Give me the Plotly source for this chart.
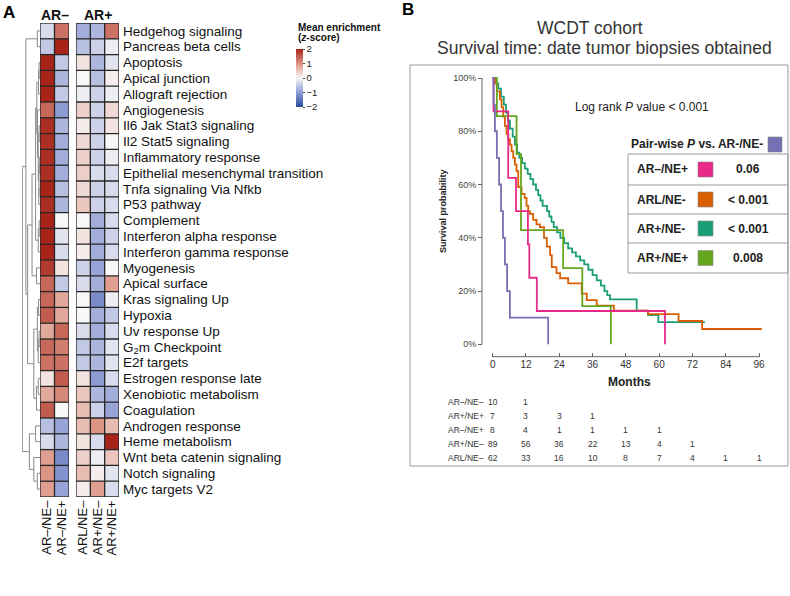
import plotly.graph_objects as go

W, H = 790, 596
FONT = "Liberation Sans, Arial, sans-serif"

# ---------------- Panel A data ----------------
pathways = [
    "Hedgehog signaling", "Pancreas beta cells", "Apoptosis", "Apical junction",
    "Allograft rejection", "Angiogenesis", "Il6 Jak Stat3 signaling", "Il2 Stat5 signaling",
    "Inflammatory response", "Epithelial mesenchymal transition", "Tnfa signaling Via Nfkb",
    "P53 pathway", "Complement", "Interferon alpha response", "Interferon gamma response",
    "Myogenesis", "Apical surface", "Kras signaling Up", "Hypoxia", "Uv response Up",
    "G<sub>2</sub>m Checkpoint", "E2f targets", "Estrogen response late", "Xenobiotic metabolism",
    "Coagulation", "Androgen response", "Heme metabolism", "Wnt beta catenin signaling",
    "Notch signaling", "Myc targets V2",
]
cols_ar_neg = ["AR–/NE–", "AR–/NE+"]
cols_ar_pos = ["ARL/NE–", "AR+/NE–", "AR+/NE+"]

ar_neg_ne_neg = [-0.3, -0.5, 2.0, 2.0, 2.0, 1.4, 1.9, 1.9, 1.9, 1.9, 2.0, 1.9, 2.0, 2.0, 2.0,
                 1.8, 1.4, 1.4, 1.5, 0.8, 1.4, 1.3, 0.2, 0.8, 1.5, -0.6, -0.3, 0.9, 1.0, 0.9]
ar_neg_ne_pos = [1.3, 2.0, -0.5, -0.7, -0.5, -1.0, -0.7, -0.8, -0.8, -0.8, -0.6, -0.7, 0.0, -0.2, -0.3,
                 0.2, -0.5, 0.8, 0.8, 1.4, 1.2, 1.3, 1.5, 1.1, 0.0, -0.9, -0.7, -1.2, -1.1, -0.9]
arl_ne_neg = [-0.8, -0.6, 0.2, 0.0, -0.1, 0.4, 0.1, 0.3, 0.4, 0.4, 0.3, 0.5, 0.0, 0.2, 0.1,
              -0.4, -0.3, 0.0, 0.0, -0.3, -0.5, -0.5, 0.2, 0.5, 0.6, 0.6, 0.2, 0.4, 0.6, 0.1]
ar_pos_ne_neg = [-0.7, -0.4, -0.7, -0.6, -0.4, -0.4, -0.4, -0.4, -0.4, -0.3, -0.4, -0.4, -0.8, -0.8, -0.8,
                 -0.9, -0.8, -1.2, -0.8, -0.8, -0.7, -0.7, -1.0, -0.7, -0.4, 1.0, -0.3, -0.1, 0.1, 0.9]
ar_pos_ne_pos = [1.3, -0.1, -0.2, 0.1, -0.1, 0.3, 0.2, 0.0, -0.1, -0.3, -0.3, -0.3, -0.3, -0.4, -0.3,
                 0.0, 0.9, -0.1, -0.5, -0.3, -0.2, -0.2, -0.3, -0.8, -0.9, 0.6, 2.0, 0.5, -0.2, -0.3]

# dendrogram: [merge height, left, right]; leaves are row indices
dendro_tree = [1.0,
               [0.8, [0.15, 0, 1],
                [0.7,
                 [0.45,
                  [0.25,
                   [0.18, [0.08, [0.05, 2, 3], 4],
                    [0.14, 5, [0.1, [0.05, 6, 7], [0.06, [0.04, 8, 9], [0.07, 10, 11]]]]],
                   [0.1, [0.05, 12, 13], 14]],
                  [0.2, 15, 16]],
                 [0.35, [0.15, [0.08, 17, 18], [0.1, [0.05, 19, 20], 21]],
                  [0.2, [0.1, 22, 23], 24]]]],
               [0.6, [0.25, 25, 26], [0.35, 27, [0.15, 28, 29]]]]

colorbar_ticks = [2, 1, 0, -1, -2]
colorbar_text = ["2", "1", "0", "−1", "−2"]

# ---------------- Panel B data ----------------
purple_t = [0.3, 0.8, 1.5, 2.3, 3.0, 3.7, 4.4, 5.2, 6.2, 20.0]
purple_s = [0.9, 0.8, 0.7, 0.6, 0.5, 0.4, 0.3, 0.2, 0.1, 0.0]
purple_end = 20.0

pink_t = [0.3, 5.6, 8.4, 12.7, 13.2, 15.9, 62.1]
pink_s = [0.875, 0.625, 0.5, 0.375, 0.25, 0.125, 0.0]
pink_end = 62.1

green_t = [1.5, 8.6, 10.2, 25.4, 32.3, 42.6]
green_s = [0.857, 0.714, 0.429, 0.286, 0.143, 0.0]
green_end = 42.6

orange_t = [0.8, 1.5, 2.6, 3.2, 3.8, 4.4, 5.0, 5.6, 6.2, 6.8,
            7.4, 8.0, 8.6, 9.2, 10.4, 11.5, 12.2, 12.8, 13.4, 14.6,
            15.8, 17.0, 18.5, 19.5, 20.7, 21.3, 23.0, 24.3, 27.2, 32.1,
            33.9, 37.5, 43.7, 56.0, 67.0, 75.5]
orange_s = [0.98, 0.95, 0.92, 0.89, 0.855, 0.82, 0.79, 0.77, 0.75, 0.725,
            0.70, 0.675, 0.65, 0.59, 0.565, 0.55, 0.52, 0.50, 0.49, 0.467,
            0.45, 0.44, 0.40, 0.367, 0.335, 0.29, 0.267, 0.248, 0.229, 0.19,
            0.166, 0.145, 0.126, 0.113, 0.0875, 0.0575]
orange_end = 97.0

teal_t = [1.2, 2.0, 3.0, 4.0, 4.8, 5.5, 6.2, 7.2, 8.0, 8.8,
          9.6, 10.6, 11.6, 12.6, 13.6, 14.6, 15.6, 16.4, 17.2, 18.0,
          19.6, 20.4, 21.2, 22.0, 23.2, 24.4, 25.8, 27.2, 28.6, 30.0,
          31.5, 33.0, 34.5, 36.0, 37.5, 39.0, 40.3, 41.3, 42.3, 51.9,
          56.0, 59.7]
teal_s = [0.98, 0.96, 0.93, 0.90, 0.87, 0.84, 0.81, 0.78, 0.75, 0.72,
          0.70, 0.68, 0.66, 0.64, 0.62, 0.60, 0.58, 0.56, 0.54, 0.52,
          0.50, 0.48, 0.46, 0.44, 0.42, 0.40, 0.38, 0.36, 0.345, 0.33,
          0.315, 0.30, 0.28, 0.26, 0.24, 0.22, 0.20, 0.185, 0.169, 0.126,
          0.11, 0.083]
teal_end = 76.5

month_ticks = [0, 12, 24, 36, 48, 60, 72, 84, 96]
surv_ticks = [0, 0.2, 0.4, 0.6, 0.8, 1.0]
surv_ticktext = ["0%", "20%", "40%", "60%", "80%", "100%"]

risk_labels = ["AR–/NE–", "AR+/NE+", "AR–/NE+", "AR+/NE–", "ARL/NE–"]
risk_ar_neg_ne_neg = [10, 1]
risk_ar_pos_ne_pos = [7, 3, 3, 1]
risk_ar_neg_ne_pos = [8, 4, 1, 1, 1, 1]
risk_ar_pos_ne_neg = [89, 56, 36, 22, 13, 4, 1]
risk_arl_ne_neg = [62, 33, 16, 10, 8, 7, 4, 1, 1]

legend_labels = ["AR–/NE+", "ARL/NE-", "AR+/NE-", "AR+/NE+"]
legend_pvalues = ["0.06", "< 0.001", "< 0.001", "0.008"]

C_PURPLE, C_PINK, C_ORANGE, C_TEAL, C_GREEN = "#7570b3", "#e7298a", "#d95f02", "#1b9e77", "#66a61e"


def px(x):
    return x / W


def py(y):
    return 1 - y / H


fig = go.Figure()

colorscale = [[0.0, "#2b4b9b"], [0.25, "#8d9bd3"], [0.5, "#f7f7f7"], [0.75, "#dc9484"], [1.0, "#a82418"]]
n_rows = len(pathways)
rows = list(range(n_rows))

z_neg = [[a, b] for a, b in zip(ar_neg_ne_neg, ar_neg_ne_pos)]
z_pos = [[a, b, c] for a, b, c in zip(arl_ne_neg, ar_pos_ne_neg, ar_pos_ne_pos)]

fig.add_trace(go.Heatmap(z=z_neg, x=[0, 1], y=rows, colorscale=colorscale, zmin=-2, zmax=2,
                         showscale=False, xaxis="x", yaxis="y", hoverinfo="skip"))
fig.add_trace(go.Heatmap(z=z_pos, x=[0, 1, 2], y=rows, colorscale=colorscale, zmin=-2, zmax=2,
                         xaxis="x2", yaxis="y2", hoverinfo="skip",
                         colorbar=dict(x=px(296), xanchor="left", y=py(78), yanchor="middle",
                                       len=58, lenmode="pixels", thickness=7, thicknessmode="pixels",
                                       tickvals=colorbar_ticks, ticktext=colorbar_text,
                                       ticks="outside", ticklen=2, tickcolor="#444",
                                       tickfont=dict(size=9.5, family=FONT, color="#222"),
                                       outlinewidth=0, xpad=0, ypad=0)))

# dendrogram segments computed from the tree
dx, dy = [], []


def walk(node):
    if isinstance(node, int):
        return node, 0.0
    h, left, right = node
    yl, hl = walk(left)
    yr, hr = walk(right)
    dx.extend([hl, h, h, hr, None])
    dy.extend([yl, yl, yr, yr, None])
    return (yl + yr) / 2, h


walk(dendro_tree)
fig.add_trace(go.Scatter(x=dx, y=dy, mode="lines", line=dict(color="#8a8a8a", width=1),
                         xaxis="x3", yaxis="y3", hoverinfo="skip", showlegend=False))

# cell borders
shapes = []
for ax, ncol in (("", 2), ("2", 3)):
    for i in range(ncol + 1):
        shapes.append(dict(type="line", xref="x" + ax, yref="y" + ax, x0=i - 0.5, x1=i - 0.5,
                           y0=-0.5, y1=n_rows - 0.5, line=dict(color="#262626", width=1.3)))
    for j in range(n_rows + 1):
        shapes.append(dict(type="line", xref="x" + ax, yref="y" + ax, x0=-0.5, x1=ncol - 0.5,
                           y0=j - 0.5, y1=j - 0.5, line=dict(color="#262626", width=1.3)))


# ---------------- KM curves ----------------
def km_xy(t, s, end):
    return [0.0] + list(t) + [end], [1.0] + list(s) + [s[-1]]


for t, s, e, c in ((teal_t, teal_s, teal_end, C_TEAL), (orange_t, orange_s, orange_end, C_ORANGE),
                   (green_t, green_s, green_end, C_GREEN), (pink_t, pink_s, pink_end, C_PINK),
                   (purple_t, purple_s, purple_end, C_PURPLE)):
    xx, yy = km_xy(t, s, e)
    fig.add_trace(go.Scatter(x=xx, y=yy, mode="lines", line=dict(color=c, width=1.8, shape="hv"),
                             xaxis="x4", yaxis="y4", hoverinfo="skip", showlegend=False))

x0px, x96px = 492.7, 759.0
xs = (x96px - x0px) / 96
y0px, y1px = 344.3, 78.0
ys = y0px - y1px
km_xrange = [(482 - x0px) / xs, (775 - x0px) / xs]
km_yrange = [(y0px - 352) / ys, (y0px - 70) / ys]

ax_common = dict(showgrid=False, zeroline=False, fixedrange=True)
layout = dict(
    width=W, height=H, margin=dict(l=0, r=0, t=0, b=0),
    paper_bgcolor="white", plot_bgcolor="white", showlegend=False,
    font=dict(family=FONT, color="#111"),
    xaxis=dict(domain=[px(40), px(69)], range=[-0.5, 1.5], tickvals=[0, 1], ticktext=cols_ar_neg,
               tickangle=-90, ticks="", tickfont=dict(size=13, family=FONT, color="#111"),
               anchor="y", **ax_common),
    yaxis=dict(domain=[py(497), py(23)], range=[n_rows - 0.5, -0.5], showticklabels=False,
               anchor="x", **ax_common),
    xaxis2=dict(domain=[px(76), px(119)], range=[-0.5, 2.5], tickvals=[0, 1, 2], ticktext=cols_ar_pos,
                tickangle=-90, ticks="", tickfont=dict(size=13, family=FONT, color="#111"),
                anchor="y2", **ax_common),
    yaxis2=dict(domain=[py(497), py(23)], range=[n_rows - 0.5, -0.5], tickvals=rows, ticktext=pathways,
                side="right", ticks="", ticklabelstandoff=3,
                tickfont=dict(size=13.5, family=FONT, color="#111"), anchor="x2", **ax_common),
    xaxis3=dict(domain=[px(22), px(40)], range=[1.02, 0], visible=False, anchor="y3", **ax_common),
    yaxis3=dict(domain=[py(497), py(23)], range=[n_rows - 0.5, -0.5], visible=False, anchor="x3", **ax_common),
    xaxis4=dict(domain=[px(482), px(775)], range=km_xrange, anchor="free", position=py(356.7),
                tickvals=month_ticks, ticks="inside", ticklen=4, tickcolor="#666", showline=False,
                tickfont=dict(size=10, family=FONT, color="#333"), **ax_common),
    yaxis4=dict(domain=[py(352), py(70)], range=km_yrange, anchor="free", position=px(482),
                tickvals=surv_ticks, ticktext=surv_ticktext, ticks="outside", ticklen=4,
                tickcolor="#666", showline=False, tickfont=dict(size=9, family=FONT, color="#444"),
                **ax_common),
)

# axis lines for KM
shapes.append(dict(type="line", xref="paper", yref="y4", x0=px(482), x1=px(482), y0=0, y1=1,
                   line=dict(color="#666", width=1)))
shapes.append(dict(type="line", xref="x4", yref="paper", x0=0, x1=96, y0=py(356.7), y1=py(356.7),
                   line=dict(color="#666", width=1)))
# frame around panel B
shapes.append(dict(type="rect", xref="paper", yref="paper", x0=px(410), x1=px(788), y0=py(466), y1=py(65),
                   line=dict(color="#999", width=1)))
# legend table
row_bounds = [154, 185, 214, 243, 273]
shapes.append(dict(type="rect", xref="paper", yref="paper", x0=px(628), x1=px(788),
                   y0=py(row_bounds[-1]), y1=py(row_bounds[0]), line=dict(color="#999", width=1)))
for yb in row_bounds[1:-1]:
    shapes.append(dict(type="line", xref="paper", yref="paper", x0=px(628), x1=px(788),
                       y0=py(yb), y1=py(yb), line=dict(color="#999", width=1)))
shapes.append(dict(type="rect", xref="paper", yref="paper", x0=px(768), x1=px(782), y0=py(152), y1=py(137),
                   fillcolor=C_PURPLE, line=dict(color="#888", width=0.6)))
for i, c in enumerate([C_PINK, C_ORANGE, C_TEAL, C_GREEN]):
    yc = (row_bounds[i] + row_bounds[i + 1]) / 2
    shapes.append(dict(type="rect", xref="paper", yref="paper", x0=px(698), x1=px(713),
                       y0=py(yc + 7.5), y1=py(yc - 7.5), fillcolor=c, line=dict(color="#888", width=0.6)))

layout["shapes"] = shapes

ann = []


def A(x, y, text, size=12, color="#111", xanchor="center", yanchor="middle", textangle=0, xref="paper"):
    ann.append(dict(x=x if xref != "paper" else px(x), y=py(y), xref=xref, yref="paper", text=text,
                    showarrow=False, xanchor=xanchor, yanchor=yanchor, textangle=textangle,
                    font=dict(size=size, color=color, family=FONT)))


A(9, 13, "<b>A</b>", size=17, color="#000")
A(408, 9, "<b>B</b>", size=17, color="#000")
A(55, 15, "<b>AR–</b>", size=14)
A(97.5, 15, "<b>AR+</b>", size=14)
A(296, 27.5, "<b>Mean enrichment</b>", size=10, xanchor="left")
A(296, 38, "<b>(<i>z</i>-score)</b>", size=10, xanchor="left")

A(590, 28, "WCDT cohort", size=17.5, color="#333")
A(604, 48, "Survival time: date tumor biopsies obtained", size=17.5, color="#333")
A(642, 107, "Log rank <i>P</i> value < 0.001", size=12, color="#222")
A(765, 144, "<b>Pair-wise <i>P</i> vs. AR-/NE-</b>", size=12, color="#222", xanchor="right")
for i, (lab, pv) in enumerate(zip(legend_labels, legend_pvalues)):
    yc = (row_bounds[i] + row_bounds[i + 1]) / 2
    A(635, yc, "<b>" + lab + "</b>", size=12, color="#222", xanchor="left")
    A(748, yc, "<b>" + pv + "</b>", size=12, color="#222")

A(443, 211, "<b>Survival probability</b>", size=9, color="#222", textangle=-90)
A(629, 382, "<b>Months</b>", size=12, color="#222")

risk_rows = [risk_ar_neg_ne_neg, risk_ar_pos_ne_pos, risk_ar_neg_ne_pos, risk_ar_pos_ne_neg, risk_arl_ne_neg]
risk_y = [402, 416, 430, 444, 458]
for lab, vals, yy in zip(risk_labels, risk_rows, risk_y):
    A(446, yy, lab, size=8.5, color="#333", xanchor="left")
    for t, v in zip(month_ticks, vals):
        A(t, yy, str(v), size=8.5, color="#333", xref="x4")

layout["annotations"] = ann
fig.update_layout(**layout)
fig.write_html("out.html", config={"displayModeBar": False},
               post_script="document.body.style.margin='0';document.body.style.padding='0';")
